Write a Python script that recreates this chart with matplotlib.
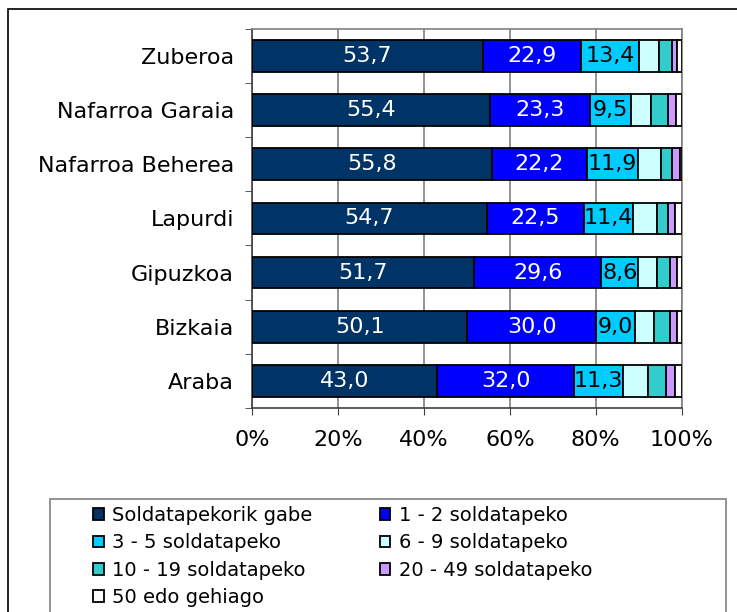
import matplotlib
matplotlib.use("Agg")
import matplotlib.pyplot as plt
from matplotlib.patches import Patch, Rectangle
import numpy as np

# Data (percent), bottom to top
regions = ["Araba", "Bizkaia", "Gipuzkoa", "Lapurdi",
           "Nafarroa Beherea", "Nafarroa Garaia", "Zuberoa"]
series_names = ["Soldatapekorik gabe", "1 - 2 soldatapeko", "3 - 5 soldatapeko",
                "6 - 9 soldatapeko", "10 - 19 soldatapeko", "20 - 49 soldatapeko",
                "50 edo gehiago"]
s_none = [43.0, 50.1, 51.7, 54.7, 55.8, 55.4, 53.7]
s_1_2 = [32.0, 30.0, 29.6, 22.5, 22.2, 23.3, 22.9]
s_3_5 = [11.3, 9.0, 8.6, 11.4, 11.9, 9.5, 13.4]
s_6_9 = [5.8, 4.5, 4.3, 5.6, 5.2, 4.7, 4.8]
s_10_19 = [4.3, 3.6, 3.1, 2.6, 2.7, 3.8, 3.0]
s_20_49 = [2.1, 1.7, 1.7, 1.7, 1.7, 2.0, 1.1]
s_50 = [1.5, 1.1, 1.0, 1.5, 0.5, 1.3, 1.1]

colors = ["#003366", "#0000FF", "#00CCFF", "#CCFFFF", "#33CCCC", "#CC99FF", "#FFFFFF"]
label_colors = ["white", "white", "black"]

W, H = 737, 612
fig = plt.figure(figsize=(W / 100, H / 100), dpi=100)
plt.rcParams["font.family"] = "DejaVu Sans"

ax = fig.add_axes([252 / W, 1 - 408 / H, (681.7 - 252) / W, (408 - 28.7) / H])

data = [s_none, s_1_2, s_3_5, s_6_9, s_10_19, s_20_49, s_50]
y = np.arange(len(regions))
left = np.zeros(len(regions))
handles = []
for i, (vals, col) in enumerate(zip(data, colors)):
    vals = np.array(vals)
    bars = ax.barh(y, vals / 100, left=left / 100, height=0.585, color=col,
                   edgecolor="black", linewidth=1.3, zorder=3)
    if i < 3:
        for b, v in zip(bars, vals):
            ax.text(b.get_x() + b.get_width() / 2, b.get_y() + b.get_height() / 2,
                    f"{v:.1f}".replace(".", ","), ha="center", va="center",
                    color=label_colors[i], fontsize=16, zorder=4)
    left += vals
    handles.append(Patch(facecolor=col, edgecolor="black", linewidth=1.3))

ax.set_xlim(0, 1)
ax.set_ylim(-0.5, len(regions) - 0.5)
ax.set_xticks(np.linspace(0, 1, 6))
ax.set_xticklabels([f"{int(v)}%" for v in np.linspace(0, 100, 6)], fontsize=16)
ax.set_yticks(y)
ax.set_yticklabels(regions, fontsize=16)
ax.set_yticks(np.arange(-0.5, len(regions), 1), minor=True)
ax.tick_params(axis="y", which="major", length=0, pad=13)
ax.tick_params(axis="y", which="minor", length=5, direction="out", color="#404040")
ax.tick_params(axis="x", length=5, direction="out", pad=11, color="#404040")
ax.grid(axis="x", color="#808080", linewidth=1.2, zorder=0)
for side in ["top", "right"]:
    ax.spines[side].set_color("#808080")
for side in ["left", "bottom"]:
    ax.spines[side].set_color("#404040")
for sp in ax.spines.values():
    sp.set_linewidth(1.2)

# outer chart border (runs off the right and bottom edges)
fig.add_artist(Rectangle((8 / W, -0.2), 1.2, 0.2 + 1 - 9 / H, transform=fig.transFigure,
                         fill=False, edgecolor="black", linewidth=1.2))
# legend box (also runs off the bottom)
fig.add_artist(Rectangle((50 / W, -0.2), (726 - 50) / W, 0.2 + 1 - 499 / H,
                         transform=fig.transFigure, fill=False,
                         edgecolor="#808080", linewidth=1.2))

order = [0, 2, 4, 6, 1, 3, 5]
fig.legend([handles[k] for k in order], [series_names[k] for k in order],
           loc="upper left", bbox_to_anchor=(93 / W, 1 - 506 / H), ncol=2,
           frameon=False, fontsize=14, handlelength=0.55, handleheight=0.55,
           handletextpad=0.45, labelspacing=0.43, columnspacing=3.45,
           borderaxespad=0, borderpad=0)

fig.savefig("out.png", dpi=100)
